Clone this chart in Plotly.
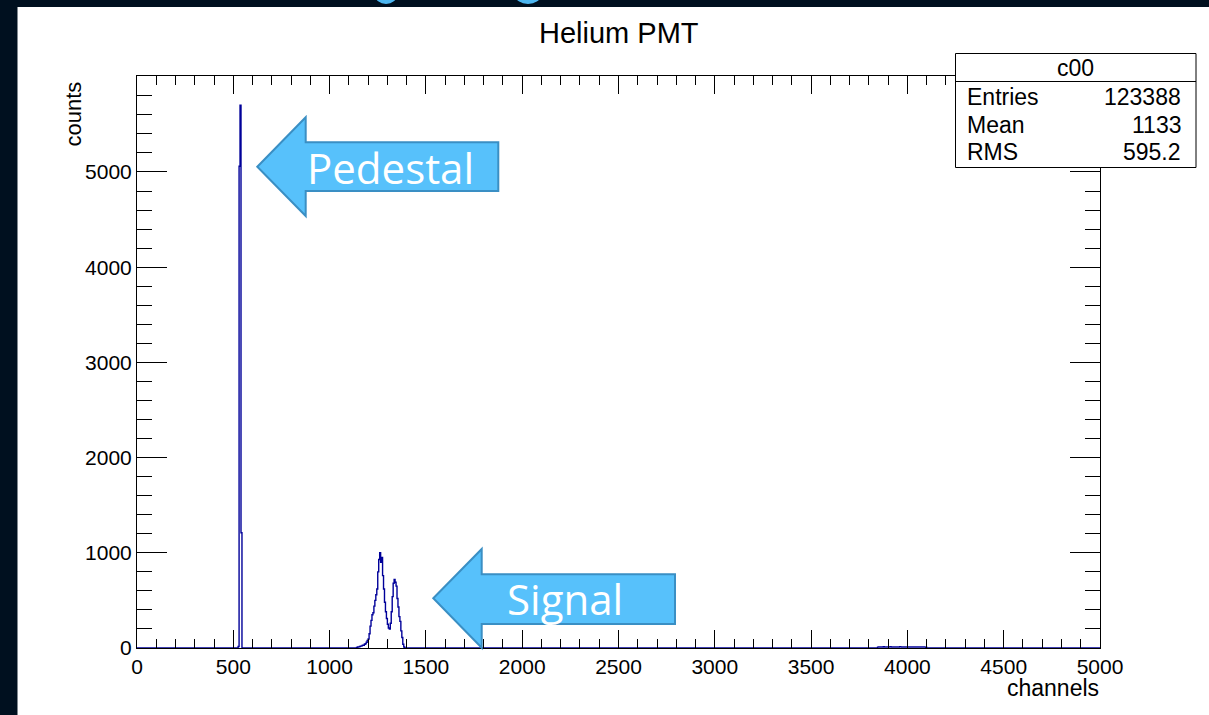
import numpy as np
import plotly.graph_objects as go

# Histogram binning (channels)
BIN_WIDTH = 5
N_BINS = 1000

# Bin contents, given as (first bin low edge, counts per bin)
pedestal_start = 525
pedestal_counts = [15, 5060, 5700, 1210]

signal_start = 1140
signal_counts = [5, 10, 12, 15, 20, 22, 30, 28, 40, 45,
                 60, 80, 95, 150, 230, 290, 350, 370, 440, 500,
                 560, 620, 800, 930, 1000, 900, 950, 760, 620, 480,
                 380, 310, 250, 210, 200, 260, 380, 540, 680, 720,
                 690, 650, 520, 430, 330, 280, 180, 110, 40, 10]

tail_start = 3845
tail_counts = [9, 11, 10, 12, 9, 10, 13, 11, 10, 12,
               11, 9, 12, 13, 10, 11, 12, 10, 9, 11,
               12, 10, 11, 13, 12, 10, 9, 11, 12, 10,
               11, 10, 12, 9, 11, 10, 12, 11, 10, 9,
               11, 12, 10, 11, 9, 10, 12, 11, 10, 9, 8]

stats_title = "c00"
stats_rows = [("Entries", "123388"), ("Mean", "1133"), ("RMS", "595.2")]

x_ticks = [0, 500, 1000, 1500, 2000, 2500, 3000, 3500, 4000, 4500, 5000]
y_ticks = [0, 1000, 2000, 3000, 4000, 5000]

# Fill the full histogram
counts = np.zeros(N_BINS)
for start, vals in [(pedestal_start, pedestal_counts),
                    (signal_start, signal_counts),
                    (tail_start, tail_counts)]:
    i0 = start // BIN_WIDTH
    counts[i0:i0 + len(vals)] = vals

edges = np.arange(N_BINS + 1) * BIN_WIDTH
step_x = np.concatenate([[edges[0]], edges])
step_y = np.concatenate([[0], counts, [0]])

# Page geometry (pixels)
W, H = 1209, 715
L, R, T, B = 137, 1100, 76, 648


def px(x):
    return (x - L) / (R - L)


def py(y):
    return (B - y) / (B - T)


fig = go.Figure()
fig.add_trace(go.Scatter(
    x=step_x, y=step_y, mode="lines",
    line=dict(color="#000099", width=1.4, shape="hv"),
    hoverinfo="skip", showlegend=False,
))

FONT = "Liberation Sans, Arial, sans-serif"

fig.update_layout(
    width=W, height=H,
    margin=dict(l=L, r=W - R, t=T, b=H - B),
    paper_bgcolor="#00101f",
    plot_bgcolor="white",
    font=dict(family=FONT, color="black", size=21),
    showlegend=False,
)

fig.update_xaxes(
    range=[0, 5000], tickvals=x_ticks, ticktext=[str(v) for v in x_ticks],
    ticks="inside", ticklen=18, tickwidth=1, tickcolor="black",
    minor=dict(dtick=100, ticks="inside", ticklen=9, tickwidth=1, tickcolor="black"),
    showline=True, linecolor="black", linewidth=1, mirror="ticks",
    showgrid=False, zeroline=False, tickfont=dict(size=21),
)
fig.update_yaxes(
    range=[0, 6008], tickvals=y_ticks, ticktext=[str(v) for v in y_ticks],
    ticks="inside", ticklen=30, tickwidth=1, tickcolor="black",
    minor=dict(dtick=200, ticks="inside", ticklen=15, tickwidth=1, tickcolor="black"),
    showline=True, linecolor="black", linewidth=1, mirror="ticks",
    showgrid=False, zeroline=False, tickfont=dict(size=21),
)

shapes = []
# White canvas panel behind the plot
shapes.append(dict(type="rect", xref="paper", yref="paper",
                   x0=px(17.5), x1=px(W + 5), y0=py(H + 5), y1=py(7),
                   fillcolor="white", line=dict(width=0), layer="below"))

# Clipped lettering at the very top edge of the page
for cx, rx in [(386, 11), (528, 13)]:
    shapes.append(dict(type="circle", xref="paper", yref="paper",
                       x0=px(cx - rx), x1=px(cx + rx), y0=py(4), y1=py(-14),
                       fillcolor="#4cb6f0", line=dict(width=0), layer="above"))


def arrow_path(tip, head_x, head_top, head_bot, shaft_top, shaft_bot, right):
    pts = [(tip[0], tip[1]), (head_x, head_top), (head_x, shaft_top),
           (right, shaft_top), (right, shaft_bot), (head_x, shaft_bot),
           (head_x, head_bot)]
    return "M " + " L ".join(f"{px(x):.5f},{py(y):.5f}" for x, y in pts) + " Z"


ARROW_FILL = "#57c1fb"
ARROW_EDGE = "#3a8fc4"
shapes.append(dict(type="path", xref="paper", yref="paper",
                   path=arrow_path((257.3, 166.7), 305.7, 117.3, 216, 142.3, 191, 498.3),
                   fillcolor=ARROW_FILL, line=dict(color=ARROW_EDGE, width=2), layer="above"))
shapes.append(dict(type="path", xref="paper", yref="paper",
                   path=arrow_path((433.3, 598.3), 481.7, 549, 647.7, 574.3, 624, 675),
                   fillcolor=ARROW_FILL, line=dict(color=ARROW_EDGE, width=2), layer="above"))

# Statistics box
shapes.append(dict(type="rect", xref="paper", yref="paper",
                   x0=px(955.5), x1=px(1196), y0=py(167.5), y1=py(53.5),
                   fillcolor="white", line=dict(color="black", width=1), layer="above"))
shapes.append(dict(type="line", xref="paper", yref="paper",
                   x0=px(955.5), x1=px(1196), y0=py(81.5), y1=py(81.5),
                   line=dict(color="black", width=1), layer="above"))
fig.update_layout(shapes=shapes)

annotations = []
annotations.append(dict(text="Helium PMT", x=px(619), y=py(33), xref="paper", yref="paper",
                        showarrow=False, xanchor="center", yanchor="middle",
                        font=dict(size=29, family=FONT, color="black")))
annotations.append(dict(text="counts", x=px(73), y=py(80), xref="paper", yref="paper",
                        showarrow=False, xanchor="center", yanchor="top", textangle=-90,
                        font=dict(size=22, family=FONT, color="black")))
annotations.append(dict(text="channels", x=px(1101), y=py(688), xref="paper", yref="paper",
                        showarrow=False, xanchor="right", yanchor="middle",
                        font=dict(size=23, family=FONT, color="black")))
annotations.append(dict(text=stats_title, x=px(1075.5), y=py(68), xref="paper", yref="paper",
                        showarrow=False, xanchor="center", yanchor="middle",
                        font=dict(size=23, family=FONT, color="black")))
for i, (name, val) in enumerate(stats_rows):
    yy = 97 + i * 27.5
    annotations.append(dict(text=name, x=px(965), y=py(yy), xref="paper", yref="paper",
                            showarrow=False, xanchor="left", yanchor="middle",
                            font=dict(size=23, family=FONT, color="black")))
    annotations.append(dict(text=val, x=px(1183), y=py(yy), xref="paper", yref="paper",
                            showarrow=False, xanchor="right", yanchor="middle",
                            font=dict(size=23, family=FONT, color="black")))

LABEL_FONT = "Open Sans, Noto Sans, sans-serif"
annotations.append(dict(text="Pedestal", x=px(390), y=py(167), xref="paper", yref="paper",
                        showarrow=False, xanchor="center", yanchor="middle",
                        font=dict(size=42, family=LABEL_FONT, color="white")))
annotations.append(dict(text="Signal", x=px(565), y=py(598), xref="paper", yref="paper",
                        showarrow=False, xanchor="center", yanchor="middle",
                        font=dict(size=42, family=LABEL_FONT, color="white")))
fig.update_layout(annotations=annotations)

fig.write_html("out.html")
